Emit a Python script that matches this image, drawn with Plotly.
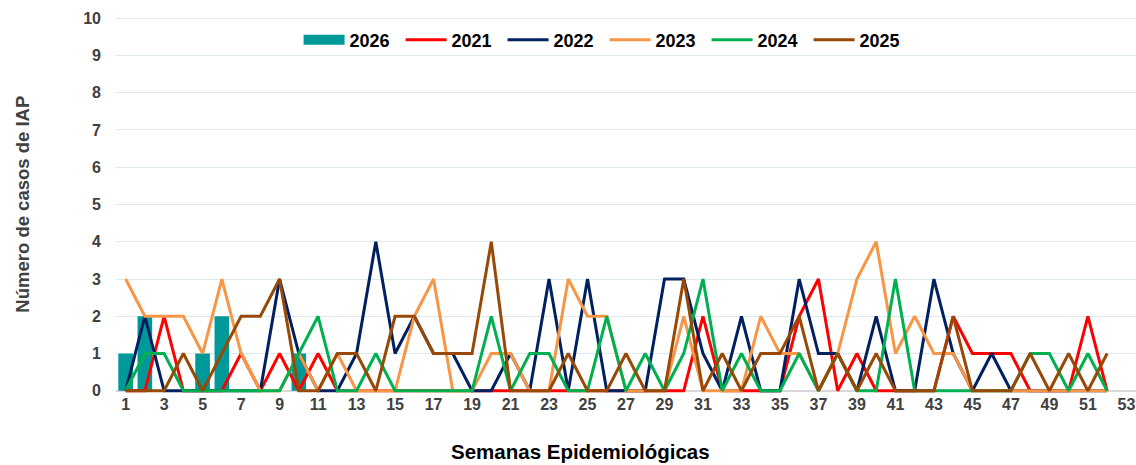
import plotly.graph_objects as go

# Epidemiological weeks
weeks = list(range(1, 53))
weeks_2026 = list(range(1, 11))

# Weekly IAP case counts per year
cases_2026 = [1, 2, 0, 0, 1, 2, 0, 0, 0, 1]
cases_2021 = [0, 0, 2, 0, 0, 0, 1, 0, 1, 0, 1, 0, 0, 0, 0, 0, 0, 0, 0, 0,
              0, 0, 0, 0, 0, 0, 0, 0, 0, 0, 2, 0, 0, 0, 0, 2, 3, 0, 1, 0,
              0, 0, 0, 2, 1, 1, 1, 0, 0, 0, 2, 0]
cases_2022 = [0, 2, 0, 0, 0, 0, 0, 0, 3, 1, 0, 0, 1, 4, 1, 2, 1, 1, 0, 0,
              1, 0, 3, 0, 3, 0, 0, 0, 3, 3, 1, 0, 2, 0, 0, 3, 1, 1, 0, 2,
              0, 0, 3, 1, 0, 1, 0, 0, 0, 0, 0, 0]
cases_2023 = [3, 2, 2, 2, 1, 3, 1, 0, 0, 1, 0, 1, 0, 0, 0, 2, 3, 0, 0, 1,
              1, 0, 0, 3, 2, 2, 0, 0, 0, 2, 0, 0, 0, 2, 1, 1, 0, 1, 3, 4,
              1, 2, 1, 1, 0, 0, 0, 0, 0, 0, 0, 0]
cases_2024 = [0, 1, 1, 0, 0, 0, 0, 0, 0, 1, 2, 0, 0, 1, 0, 0, 0, 0, 0, 2,
              0, 1, 1, 0, 0, 2, 0, 1, 0, 1, 3, 0, 1, 0, 0, 1, 0, 1, 0, 0,
              3, 0, 0, 0, 0, 0, 0, 1, 1, 0, 1, 0]
cases_2025 = [0, 0, 0, 1, 0, 1, 2, 2, 3, 0, 0, 1, 1, 0, 2, 2, 1, 1, 1, 4,
              0, 0, 0, 1, 0, 0, 1, 0, 0, 3, 0, 1, 0, 1, 1, 2, 0, 1, 0, 1,
              0, 0, 0, 2, 0, 0, 0, 1, 0, 1, 0, 1]

x_ticks = list(range(1, 54, 2))
y_ticks = list(range(0, 11))

line_series = [
    ("2021", cases_2021, "#FF0000"),
    ("2022", cases_2022, "#002060"),
    ("2023", cases_2023, "#F79646"),
    ("2024", cases_2024, "#00B050"),
    ("2025", cases_2025, "#984807"),
]

teal = "#009999"
font_family = "Liberation Sans, Arial, sans-serif"

fig = go.Figure()

fig.add_trace(go.Bar(
    x=weeks_2026, y=cases_2026, name="2026",
    marker=dict(color=teal, line=dict(width=0)),
    width=0.76, showlegend=False, legendgroup="2026",
))
# wide teal stroke as the legend key for the 2026 bars
fig.add_trace(go.Scatter(
    x=[None], y=[None], name="2026", mode="lines",
    line=dict(color=teal, width=10), legendgroup="2026",
))

for name, values, color in line_series:
    fig.add_trace(go.Scatter(
        x=weeks, y=values, name=name, mode="lines",
        line=dict(color=color, width=3),
    ))

fig.update_layout(
    width=1136, height=465,
    margin=dict(l=116, r=0, t=16, b=72),
    paper_bgcolor="white", plot_bgcolor="white",
    font=dict(family=font_family, size=16, color="#404040"),
    legend=dict(
        orientation="h", x=0.179, xanchor="left", y=0.936, yanchor="middle",
        font=dict(size=18, color="#000000", family=font_family),
        itemwidth=41, entrywidth=46, entrywidthmode="pixels",
        bgcolor="rgba(0,0,0,0)", traceorder="normal",
    ),
    xaxis=dict(
        range=[0.5, 53.5], tickmode="array", tickvals=x_ticks,
        ticktext=[str(v) for v in x_ticks],
        showgrid=False, zeroline=False, showline=False, ticks="",
        tickfont=dict(size=16, color="#404040", family=font_family, weight="bold"),
    ),
    yaxis=dict(
        range=[-0.06, 10.06], tickmode="array", tickvals=y_ticks,
        showgrid=True, gridcolor="#DCEAF0", gridwidth=1,
        zeroline=True, zerolinecolor="#D9D9D9", zerolinewidth=1.5,
        showline=False, ticks="", ticklabelstandoff=14,
        tickfont=dict(size=16, color="#404040", family=font_family, weight="bold"),
    ),
    annotations=[
        dict(text="<b>Semanas Epidemiológicas</b>", xref="paper", yref="paper",
             x=0.455, y=-0.155, xanchor="center", yanchor="middle",
             showarrow=False, font=dict(size=20.5, color="#000000")),
        dict(text="<b>Número de casos de IAP</b>", xref="paper", yref="paper",
             x=-0.092, y=0.5, xanchor="center", yanchor="middle", textangle=-90,
             showarrow=False, font=dict(size=18.5, color="#404040")),
    ],
)
fig.update_layout(legend_font_weight="bold")

fig.write_html("out.html")
